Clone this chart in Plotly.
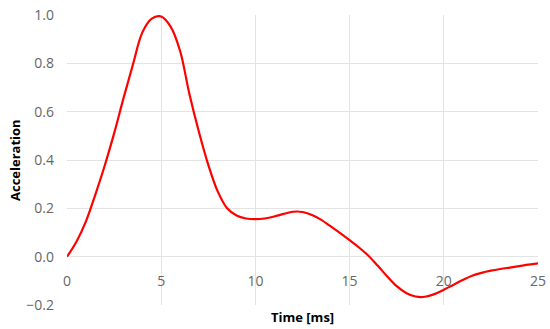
import plotly.graph_objects as go

time_ms = [0, 0.5, 1.0, 1.5, 2.0, 2.5, 3.0, 3.5, 4.0, 4.5, 5.0, 5.5, 6.0, 6.5, 7.0, 7.5,
           8.0, 8.5, 9.0, 9.5, 10.0, 10.5, 11.0, 11.5, 12.0, 12.5, 13.0, 13.5, 14.0, 14.5,
           15.0, 15.5, 16.0, 16.5, 17.0, 17.5, 18.0, 18.5, 19.0, 19.5, 20.0, 20.5, 21.0,
           21.5, 22.0, 22.5, 23.0, 23.5, 24.0, 24.5, 25.0]
acceleration = [0.0, 0.062, 0.145, 0.256, 0.376, 0.51, 0.656, 0.795, 0.928, 0.985, 0.994, 0.952,
                0.852, 0.672, 0.517, 0.38, 0.27, 0.20, 0.17, 0.158, 0.155, 0.158, 0.166, 0.177,
                0.186, 0.185, 0.172, 0.152, 0.125, 0.097, 0.068, 0.038, 0.004, -0.038, -0.082,
                -0.122, -0.150, -0.165, -0.166, -0.155, -0.137, -0.117, -0.097, -0.079,
                -0.067, -0.058, -0.051, -0.045, -0.039, -0.033, -0.028]

x_ticks = [0, 5, 10, 15, 20, 25]
y_ticks = [-0.2, 0.0, 0.2, 0.4, 0.6, 0.8, 1.0]
y_tick_text = ["\u22120.2", "0.0", "0.2", "0.4", "0.6", "0.8", "1.0"]

grid = "#e3e3e3"
tick_font = dict(family="Open Sans", size=14, color="#666666")

fig = go.Figure()
fig.add_trace(go.Scatter(
    x=time_ms, y=acceleration, mode="lines",
    line=dict(color="#ff0000", width=2.2, shape="spline", smoothing=1.0),
    hoverinfo="skip", showlegend=False,
))

fig.update_layout(
    width=550, height=329,
    margin=dict(l=67, r=12, t=15, b=24, autoexpand=False),
    paper_bgcolor="white", plot_bgcolor="white",
    xaxis=dict(
        range=[0, 25], tickvals=x_ticks, ticktext=[str(v) for v in x_ticks],
        showgrid=True, gridcolor=grid, gridwidth=1, zeroline=False,
        showline=False, ticks="", tickfont=tick_font, automargin=False,
        anchor="free", position=0.2 / 1.2, ticklabelstandoff=14,
    ),
    yaxis=dict(
        range=[-0.2, 1.0], tickvals=y_ticks, ticktext=y_tick_text,
        showgrid=True, gridcolor=grid, gridwidth=1,
        zeroline=True, zerolinecolor=grid, zerolinewidth=1, automargin=False,
        showline=False, ticks="", tickfont=tick_font, ticklabelstandoff=12,
    ),
    annotations=[
        dict(text="<b>Acceleration</b>", textangle=-90, xref="paper", yref="paper",
             x=(15 - 67) / 471, y=0.5, xanchor="center", yanchor="middle",
             showarrow=False, font=dict(family="Open Sans", size=13, color="#000000")),
        dict(text="<b>Time [ms]</b>", xref="paper", yref="paper",
             x=0.5, y=(305 - 317) / 290, xanchor="center", yanchor="middle",
             showarrow=False, font=dict(family="Open Sans", size=13, color="#000000")),
    ],
)

fig.write_html("out.html", config={"displayModeBar": False},
               post_script="document.body.style.margin='0px';")
